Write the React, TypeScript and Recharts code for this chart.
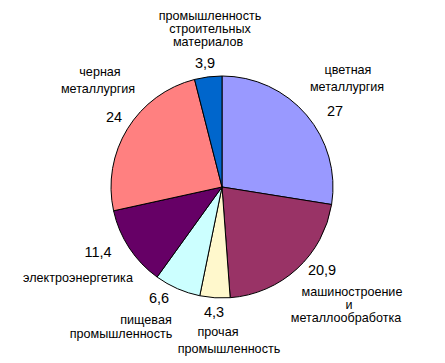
import React from 'react';
import { PieChart, Pie, Cell } from 'recharts';

const sectors = [
  'цветная металлургия',
  'машиностроение и металлообработка',
  'прочая промышленность',
  'пищевая промышленность',
  'электроэнергетика',
  'черная металлургия',
  'промышленность строительных материалов',
];
const shares = [27, 20.9, 4.3, 6.6, 11.4, 24, 3.9];
const valueLabels = ['27', '20,9', '4,3', '6,6', '11,4', '24', '3,9'];
const colors = ['#9999FF', '#993366', '#FFF8CC', '#CCFFFF', '#660066', '#FF8080', '#0066CC'];

// положение подписей (текст категории по строкам и значение)
const nameLines: { x: number; y: number; t: string }[][] = [
  [
    { x: 348, y: 70, t: 'цветная' },
    { x: 347, y: 87, t: 'металлургия' },
  ],
  [
    { x: 352, y: 292, t: 'машиностроение' },
    { x: 349, y: 305, t: 'и' },
    { x: 346, y: 318, t: 'металлообработка' },
  ],
  [
    { x: 218, y: 332, t: 'прочая' },
    { x: 229, y: 349, t: 'промышленность' },
  ],
  [
    { x: 146, y: 320, t: 'пищевая' },
    { x: 121, y: 334, t: 'промышленность' },
  ],
  [{ x: 78, y: 278, t: 'электроэнергетика' }],
  [
    { x: 100, y: 72, t: 'черная' },
    { x: 98, y: 89, t: 'металлургия' },
  ],
  [
    { x: 210, y: 16, t: 'промышленность' },
    { x: 210, y: 29, t: 'строительных' },
    { x: 208, y: 42, t: 'материалов' },
  ],
];
const valuePos = [
  { x: 335, y: 111 },
  { x: 322, y: 270 },
  { x: 214, y: 312 },
  { x: 159, y: 298 },
  { x: 98, y: 252 },
  { x: 114, y: 117 },
  { x: 205, y: 63 },
];

const data = sectors.map((name, i) => ({ name, value: shares[i] }));

const renderLabel = (props: any) => {
  const i = props.index;
  return (
    <g key={'lbl' + i}>
      {nameLines[i].map((l, k) => (
        <text key={k} x={l.x} y={l.y} textAnchor="middle" dominantBaseline="central" fill="#000" fontSize={12.6}>
          {l.t}
        </text>
      ))}
      <text x={valuePos[i].x} y={valuePos[i].y} textAnchor="middle" dominantBaseline="central" fill="#000" fontSize={14.5}>
        {valueLabels[i]}
      </text>
    </g>
  );
};

export default function App() {
  return (
    <div style={{ position: 'absolute', left: 0, top: 0, width: 445, height: 363, background: '#fff', fontFamily: '"Liberation Sans", Arial, sans-serif' }}>
      <PieChart width={445} height={363} margin={{ top: 0, right: 0, bottom: 0, left: 0 }}>
        <Pie
          data={data}
          dataKey="value"
          nameKey="name"
          cx={222}
          cy={187}
          outerRadius={111}
          startAngle={90}
          endAngle={-270}
          stroke="#000"
          strokeWidth={1}
          label={renderLabel}
          labelLine={false}
          isAnimationActive={false}
        >
          {data.map((d, i) => (
            <Cell key={d.name} fill={colors[i]} />
          ))}
        </Pie>
      </PieChart>
    </div>
  );
}
